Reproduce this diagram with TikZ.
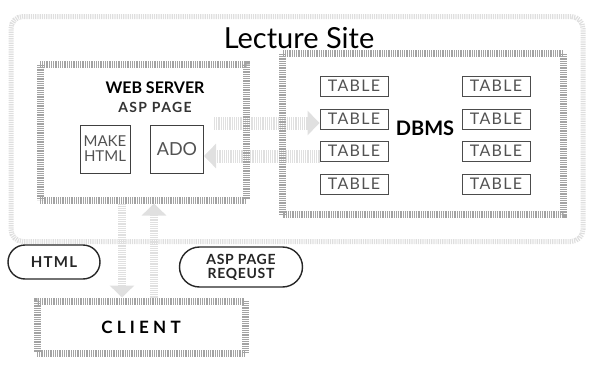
\documentclass[tikz,border=0pt]{standalone}
\usepackage{fontspec}
\setmainfont{Lato}
\usetikzlibrary{arrows.meta,calc,backgrounds}
\tikzset{
  x=1pt,y=-1pt,
  frame/.style={preaction={draw=black!25,line width=7pt},
     draw=black!36,line width=7pt,dash pattern=on 0.6pt off 1.2pt},
  tablebox/.style={draw=black!70,line width=0.9pt,minimum width=68pt,minimum height=20pt,inner sep=0pt,
     font=\fontsize{16}{16}\selectfont\addfontfeature{LetterSpace=8}\color{black!68}},
  inner/.style={draw=black!75,line width=1pt,inner sep=0pt,align=center,
     font=\fontsize{15}{15}\selectfont\color{black!68}},
  pill/.style={draw=black!85,line width=1.4pt,inner sep=0pt,align=center},
  bigarrow/.style={draw=black!12,line width=#1,dash pattern=on 1.2pt off 1pt,
     -{Triangle[length=12pt,width=24pt,color=black!12,fill=black!12]}},
  bigarrow/.default=13pt
}
\begin{document}
\begin{tikzpicture}
\useasboundingbox (0,0) rectangle (590,367);
% outer site frame
\node[draw=black!13,line width=5pt,dash pattern=on 1.2pt off 1pt,rounded corners=12pt,
      minimum width=572pt,minimum height=225pt,inner sep=0pt] (site) at (297,129) {};
\node[font=\fontsize{29}{29}\selectfont] (title) at (299,38) {Lecture Site};
% web server
\node[frame,minimum width=206pt,minimum height=136pt,inner sep=0pt] (ws) at (143,132) {};
\node[font=\fontsize{16}{16}\selectfont\bfseries] (wst) at (155,88) {WEB SERVER};
\node[font=\fontsize{14}{14}\selectfont\bfseries\addfontfeature{LetterSpace=10}\color{black!80}] (asp) at (155,107) {ASP PAGE};
\node[inner,minimum width=50pt,minimum height=48pt] (make) at (105,149) {MAKE\\HTML};
\node[inner,minimum width=53pt,minimum height=48pt,font=\fontsize{18}{18}\selectfont\color{black!68}] (ado) at (177,149) {ADO};
% DBMS
\node[frame,minimum width=281pt,minimum height=161pt,inner sep=0pt] (db) at (423,134) {};
\node[font=\fontsize{20}{20}\selectfont\bfseries] (dbms) at (425,128) {DBMS};
\node[tablebox] (a1) at (354,86) {TABLE};
\node[tablebox] (a2) at (354,119) {TABLE};
\node[tablebox] (a3) at (354,151) {TABLE};
\node[tablebox] (b1) at (496,86) {TABLE};
\node[tablebox] (b2) at (496,119) {TABLE};
\node[tablebox] (b3) at (496,151) {TABLE};
\node[tablebox] (a4) at (354,184) {TABLE};
\node[tablebox] (b4) at (496,184) {TABLE};
% client
\node[frame,minimum width=208pt,minimum height=52pt,inner sep=0pt,
      font=\fontsize{17}{17}\selectfont\bfseries\addfontfeature{LetterSpace=25}] (client) at (141,327) {CLIENT};
% pills
\node[pill,minimum width=92pt,minimum height=34pt,rounded corners=17pt,
      font=\fontsize{15}{15}\selectfont\bfseries\addfontfeature{LetterSpace=8}\color{black!85}] (html) at (54,262) {HTML};
\node[pill,minimum width=123pt,minimum height=40pt,rounded corners=20pt,
      font=\fontsize{14}{14}\selectfont\bfseries\addfontfeature{LetterSpace=5}\color{black!85}] (req) at (241,267) {ASP PAGE\\REQEUST};
% arrows (behind)
\begin{scope}[on background layer]
\draw[bigarrow] ([xshift=10pt]ado.east |- 0,123) -- (a2.west |- 0,123);
\draw[bigarrow] (a3.west |- 0,156) -- (ado.east |- 0,156);
\draw[bigarrow=8pt] (ws.south -| 122,0) -- (client.north -| 122,0);
\draw[bigarrow=8pt] (client.north -| 154,0) -- (ws.south -| 154,0);
\end{scope}
\end{tikzpicture}
\end{document}
